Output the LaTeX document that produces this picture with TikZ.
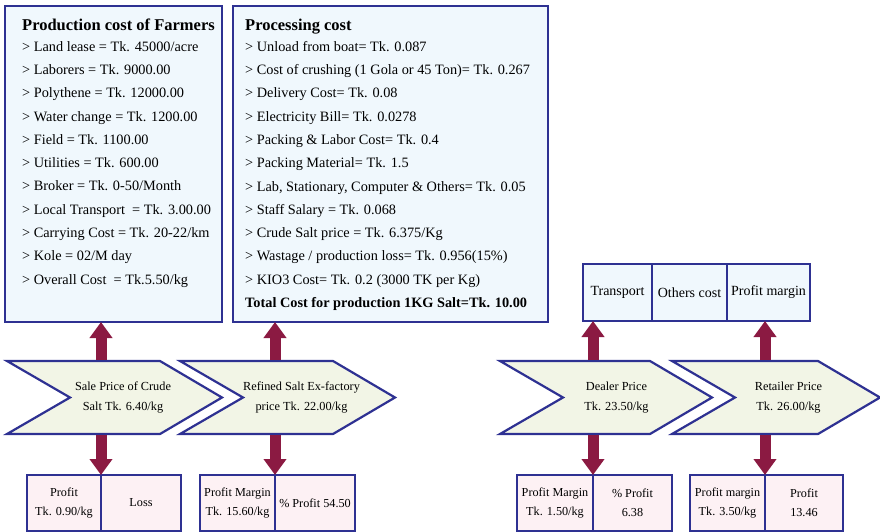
\documentclass[tikz,border=0pt]{standalone}
\usepackage{fontspec}
\setmainfont{Liberation Serif}
\usepackage{xcolor}
\usetikzlibrary{arrows.meta,positioning}

\definecolor{navyline}{HTML}{2E3192}
\definecolor{boxfill}{HTML}{F0F8FD}
\definecolor{chevfill}{HTML}{F2F5E6}
\definecolor{pinkfill}{HTML}{FDF1F4}
\definecolor{wine}{HTML}{8B1A42}

\tikzset{
  costbox/.style={draw=navyline, fill=boxfill, line width=2pt, outer sep=0pt, inner sep=0pt, anchor=north west},
  costtext/.style={align=left, anchor=north west, inner sep=0pt, font=\fontsize{14.3}{23.3}\selectfont},
  boxtitle/.style={font=\fontsize{16.5}{20}\selectfont\bfseries},
  chevline/.style={draw=navyline, fill=chevfill, line width=2.2pt, line join=miter},
  chevlabel/.style={minimum height=73pt, inner sep=0pt, outer sep=0pt, align=center,
    font=\fontsize{12.3}{20}\selectfont},
  topbox/.style={costbox, minimum height=57pt, font=\fontsize{14}{17}\selectfont},
  gainbox/.style={draw=navyline, fill=pinkfill, line width=2pt, outer sep=0pt, inner sep=0pt, anchor=north west,
    minimum height=56pt, align=center, font=\fontsize{12.2}{19}\selectfont},
  fatarrow/.style={draw=wine, line width=11pt, shorten <=1.1pt, -{Triangle[length=16pt,width=22pt]}},
}

\begin{document}
\begin{tikzpicture}[x=1pt, y=-1pt]
\useasboundingbox (0,0) rectangle (880,532);
% cost boxes
\node[costbox, minimum width=217pt, minimum height=316pt] (farm) at (5,6) {};
\node[boxtitle, anchor=base west, inner sep=0pt] (farmhead) at (22,31) {Production cost of Farmers};
\node[costtext] (farmtxt) at (22,41) {> Land lease = Tk. 45000/acre\\
> Laborers = Tk. 9000.00\\
> Polythene = Tk. 12000.00\\
> Water change = Tk. 1200.00\\
> Field = Tk. 1100.00\\
> Utilities = Tk. 600.00\\
> Broker = Tk. 0-50/Month\\
> Local Transport~ = Tk. 3.00.00\\
> Carrying Cost = Tk. 20-22/km\\
> Kole = 02/M day\\
> Overall Cost~ = Tk.5.50/kg};
\node[costbox, minimum width=315pt, minimum height=316pt] (proc) at (233,6) {};
\node[boxtitle, anchor=base west, inner sep=0pt] (prochead) at (245,31) {Processing cost};
\node[costtext] (proctxt) at (245,41) {> Unload from boat= Tk. 0.087\\
> Cost of crushing (1 Gola or 45 Ton)= Tk. 0.267\\
> Delivery Cost= Tk. 0.08\\
> Electricity Bill= Tk. 0.0278\\
> Packing \& Labor Cost= Tk. 0.4\\
> Packing Material= Tk. 1.5\\
> Lab, Stationary, Computer \& Others= Tk. 0.05\\
> Staff Salary = Tk. 0.068\\
> Crude Salt price = Tk. 6.375/Kg\\
> Wastage / production loss= Tk. 0.956(15\%)\\
> KIO3 Cost= Tk. 0.2 (3000 TK per Kg)\\
\textbf{Total Cost for production 1KG Salt=Tk. 10.00}};
% dealer / retailer cost boxes
\node[topbox, minimum width=69pt] (trans) at (583,264) {Transport};
\node[topbox, minimum width=75pt, right=0pt of trans] (others) {Others cost};
\node[topbox, minimum width=83pt, right=0pt of others] (margin) {Profit margin};
% price chevrons
\foreach \l/\r in {7/222, 180/395, 500/712, 672/880}{
  \draw[chevline] (\l,361) -- (\r-62,361) -- (\r,397.5) -- (\r-62,434) -- (\l,434) -- (\l+63,397.5) -- cycle;
}
\node[chevlabel] (crude) at (123,397.5) {Sale Price of Crude\\Salt Tk. 6.40/kg};
\node[chevlabel] (exfac) at (301.5,397.5) {Refined Salt Ex-factory\\price Tk. 22.00/kg};
\node[chevlabel] (dealer) at (616.5,397.5) {Dealer Price\\Tk. 23.50/kg};
\node[chevlabel] (retail) at (788.5,397.5) {Retailer Price\\Tk. 26.00/kg};
% profit boxes
\node[gainbox, minimum width=74pt] (p1a) at (27,475) {Profit\\Tk. 0.90/kg};
\node[gainbox, minimum width=80pt, right=0pt of p1a] (p1b) {Loss};
\node[gainbox, minimum width=75pt] (p2a) at (200,475) {Profit Margin\\Tk. 15.60/kg};
\node[gainbox, minimum width=80pt, right=0pt of p2a] (p2b) {\% Profit 54.50};
\node[gainbox, minimum width=76pt] (p3a) at (517,475) {Profit Margin\\Tk. 1.50/kg};
\node[gainbox, minimum width=79pt, right=0pt of p3a] (p3b) {\% Profit\\6.38};
\node[gainbox, minimum width=75pt] (p4a) at (690,475) {Profit margin\\Tk. 3.50/kg};
\node[gainbox, minimum width=78pt, right=0pt of p4a] (p4b) {Profit\\13.46};
% arrows
\draw[fatarrow] (crude.north -| p1a.east) -- (farm.south -| p1a.east);
\draw[fatarrow] (crude.south -| p1a.east) -- (p1a.north east);
\draw[fatarrow] (exfac.north -| p2a.east) -- (proc.south -| p2a.east);
\draw[fatarrow] (exfac.south -| p2a.east) -- (p2a.north east);
\draw[fatarrow] (dealer.north -| p3a.east) -- (trans.south -| p3a.east);
\draw[fatarrow] (dealer.south -| p3a.east) -- (p3a.north east);
\draw[fatarrow] (retail.north -| p4a.east) -- (margin.south -| p4a.east);
\draw[fatarrow] (retail.south -| p4a.east) -- (p4a.north east);
\end{tikzpicture}
\end{document}
